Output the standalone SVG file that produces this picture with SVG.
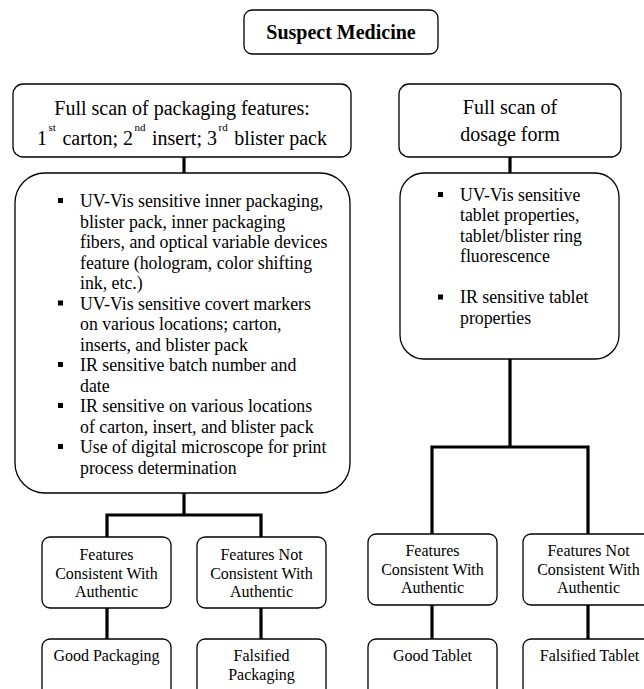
<svg xmlns="http://www.w3.org/2000/svg" width="644" height="689" viewBox="0 0 644 689" font-family="'Liberation Serif', 'Times New Roman', 'DejaVu Serif', serif">
<style>
.box{fill:#fff;stroke:#000;stroke-width:1.3}
.t{font-family:'Liberation Serif','Times New Roman','DejaVu Serif',serif;fill:#000}
.h{font-size:20px;text-anchor:middle}
.b{font-size:17.8px}
.s{font-size:16px;text-anchor:middle}
.sup{font-size:11px}
.bul{fill:#000}
.con{fill:none;stroke:#000;stroke-width:3.2;stroke-linejoin:miter;stroke-linecap:butt}
</style>
<rect width="644" height="689" fill="#fff"/>
<g id="connectors">
<path class="con" d="M184,157V173"/>
<path class="con" d="M184,493V515M107,537V515H261V537"/>
<path class="con" d="M107,608V639M261,608V639"/>
<path class="con" d="M510,157V173"/>
<path class="con" d="M510,359V447M432,534V447H588V534"/>
<path class="con" d="M432,605V639M588,605V639"/>
</g>
<g id="suspect">
<rect class="box" x="244" y="10" width="194" height="44" rx="8"/>
<text class="t" x="341" y="39" font-size="20" font-weight="bold" text-anchor="middle">Suspect Medicine</text>
</g>
<g id="pack-header">
<rect class="box" x="13" y="84" width="338" height="73" rx="10"/>
<text class="t h" x="182" y="115">Full scan of packaging features:</text>
<text class="t h" x="182" y="145">1<tspan class="sup" dx="1.5" dy="-14">st</tspan><tspan dx="1.5" dy="14"> carton; 2</tspan><tspan class="sup" dx="1.5" dy="-14">nd</tspan><tspan dx="1.5" dy="14"> insert; 3</tspan><tspan class="sup" dx="1.5" dy="-14">rd</tspan><tspan dx="1.5" dy="14"> blister pack</tspan></text>
</g>
<g id="dose-header">
<rect class="box" x="399" y="84" width="222" height="73" rx="10"/>
<text class="t h" x="510" y="114">Full scan of</text>
<text class="t h" x="510" y="141">dosage form</text>
</g>
<g id="pack-features">
<rect class="box" x="15" y="173" width="335" height="320" rx="30"/>
<rect class="bul" x="58" y="198" width="5" height="5"/>
<rect class="bul" x="58" y="300.5" width="5" height="5"/>
<rect class="bul" x="58" y="362" width="5" height="5"/>
<rect class="bul" x="58" y="403" width="5" height="5"/>
<rect class="bul" x="58" y="444" width="5" height="5"/>
<text class="t b">
<tspan x="80" y="207">UV-Vis sensitive inner packaging,</tspan>
<tspan x="80" y="227.5">blister pack, inner packaging</tspan>
<tspan x="80" y="248">fibers, and optical variable devices</tspan>
<tspan x="80" y="268.5">feature (hologram, color shifting</tspan>
<tspan x="80" y="289">ink, etc.)</tspan>
<tspan x="80" y="309.5">UV-Vis sensitive covert markers</tspan>
<tspan x="80" y="330">on various locations; carton,</tspan>
<tspan x="80" y="350.5">inserts, and blister pack</tspan>
<tspan x="80" y="371">IR sensitive batch number and</tspan>
<tspan x="80" y="391.5">date</tspan>
<tspan x="80" y="412">IR sensitive on various locations</tspan>
<tspan x="80" y="432.5">of carton, insert, and blister pack</tspan>
<tspan x="80" y="453">Use of digital microscope for print</tspan>
<tspan x="80" y="473.5">process determination</tspan>
</text>
</g>
<g id="dose-features">
<rect class="box" x="400" y="173" width="219" height="186" rx="24"/>
<rect class="bul" x="438" y="192" width="5" height="5"/>
<rect class="bul" x="438" y="294.5" width="5" height="5"/>
<text class="t b">
<tspan x="460" y="200.5">UV-Vis sensitive</tspan>
<tspan x="460" y="221">tablet properties,</tspan>
<tspan x="460" y="241.5">tablet/blister ring</tspan>
<tspan x="460" y="262">fluorescence</tspan>
<tspan x="460" y="303">IR sensitive tablet</tspan>
<tspan x="460" y="323.5">properties</tspan>
</text>
</g>
<g id="pack-consistent">
<rect class="box" x="42" y="537" width="129" height="71" rx="8"/>
<text class="t s"><tspan x="106.5" y="560">Features</tspan><tspan x="106.5" y="578.5">Consistent With</tspan><tspan x="106.5" y="597">Authentic</tspan></text>
</g>
<g id="pack-not-consistent">
<rect class="box" x="197" y="537" width="129" height="71" rx="8"/>
<text class="t s"><tspan x="261.5" y="560">Features Not</tspan><tspan x="261.5" y="578.5">Consistent With</tspan><tspan x="261.5" y="597">Authentic</tspan></text>
</g>
<g id="good-packaging">
<rect class="box" x="42" y="639" width="129" height="70" rx="8"/>
<text class="t s" x="106.5" y="661">Good Packaging</text>
</g>
<g id="falsified-packaging">
<rect class="box" x="197" y="639" width="129" height="70" rx="8"/>
<text class="t s"><tspan x="261.5" y="661">Falsified</tspan><tspan x="261.5" y="680">Packaging</tspan></text>
</g>
<g id="tab-consistent">
<rect class="box" x="368" y="534" width="129" height="71" rx="8"/>
<text class="t s"><tspan x="432.5" y="556">Features</tspan><tspan x="432.5" y="574.5">Consistent With</tspan><tspan x="432.5" y="593">Authentic</tspan></text>
</g>
<g id="tab-not-consistent">
<rect class="box" x="523" y="534" width="131" height="71" rx="8"/>
<text class="t s"><tspan x="588.5" y="556">Features Not</tspan><tspan x="588.5" y="574.5">Consistent With</tspan><tspan x="588.5" y="593">Authentic</tspan></text>
</g>
<g id="good-tablet">
<rect class="box" x="368" y="639" width="129" height="70" rx="8"/>
<text class="t s" x="432.5" y="661">Good Tablet</text>
</g>
<g id="falsified-tablet">
<rect class="box" x="523" y="639" width="131" height="70" rx="8"/>
<text class="t s" x="589.5" y="661">Falsified Tablet</text>
</g>
</svg>
